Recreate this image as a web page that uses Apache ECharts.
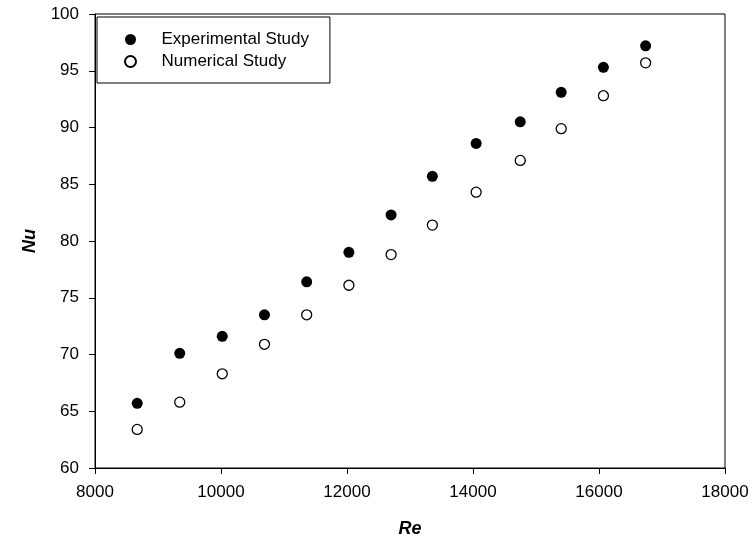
<!DOCTYPE html>
<html>
<head>
<meta charset="utf-8">
<script src="https://cdn.jsdelivr.net/npm/echarts@6/dist/echarts.min.js"></script>
<style>
  html, body { margin: 0; padding: 0; background: #fff; }
  #main { width: 752px; height: 544px; }
</style>
</head>
<body>
<div id="main"></div>
<script>
// Re values (x)
var reValues = [8670, 9345, 10020, 10690, 11360, 12030, 12700, 13355, 14050, 14750, 15400, 16070, 16740];
// Nu, experimental (filled dots)
var nuExperimental = [65.7, 70.1, 71.6, 73.5, 76.4, 79.0, 82.3, 85.7, 88.6, 90.5, 93.1, 95.3, 97.2];
// Nu, numerical (open circles)
var nuNumerical = [63.4, 65.8, 68.3, 70.9, 73.5, 76.1, 78.8, 81.4, 84.3, 87.1, 89.9, 92.8, 95.7];

var seriesNames = ['Experimental Study', 'Numerical Study'];
var xTicks = { min: 8000, max: 18000, step: 2000 };
var yTicks = { min: 60, max: 100, step: 5 };

function pairs(xs, ys) {
  var out = [];
  for (var i = 0; i < xs.length; i++) {
    out.push([xs[i], ys[i]]);
  }
  return out;
}

var font = '"Liberation Sans", Arial, sans-serif';
var chart = echarts.init(document.getElementById('main'));

var option = {
  backgroundColor: '#fff',
  animation: false,
  grid: {
    left: 95, right: 27, top: 14, bottom: 76,
    show: true,
    borderColor: '#000',
    borderWidth: 1
  },
  legend: {
    orient: 'vertical',
    left: 97,
    top: 17,
    data: seriesNames,
    itemWidth: 52,
    itemHeight: 11,
    itemGap: 5,
    padding: [14, 21, 13, 27],
    borderColor: '#000',
    borderWidth: 1,
    backgroundColor: '#fff',
    textStyle: { fontFamily: font, fontSize: 17, color: '#000', lineHeight: 17 }
  },
  xAxis: {
    type: 'value',
    min: xTicks.min, max: xTicks.max, interval: xTicks.step,
    name: 'Re',
    nameLocation: 'middle',
    nameGap: 52,
    nameTextStyle: { fontFamily: font, fontSize: 18, fontWeight: 'bold', fontStyle: 'italic', color: '#000' },
    axisLine: { lineStyle: { color: '#000', width: 1 } },
    axisTick: { show: true, length: 6, inside: false, lineStyle: { color: '#000' } },
    axisLabel: { fontFamily: font, fontSize: 17, color: '#000', margin: 16,
      formatter: function (v) { return String(v); } },
    splitLine: { show: false }
  },
  yAxis: {
    type: 'value',
    min: yTicks.min, max: yTicks.max, interval: yTicks.step,
    name: 'Nu',
    nameLocation: 'middle',
    nameGap: 56,
    nameRotate: 90,
    nameTextStyle: { fontFamily: font, fontSize: 18, fontWeight: 'bold', fontStyle: 'italic', color: '#000' },
    axisLine: { show: true, lineStyle: { color: '#000', width: 1 } },
    axisTick: { show: true, length: 6, inside: false, lineStyle: { color: '#000' } },
    axisLabel: { fontFamily: font, fontSize: 17, color: '#000', margin: 16 },
    splitLine: { show: false }
  },
  series: [
    {
      name: seriesNames[0],
      type: 'scatter',
      symbol: 'circle',
      symbolSize: 11,
      itemStyle: { color: '#000', borderColor: '#000', borderWidth: 0, opacity: 1 },
      data: pairs(reValues, nuExperimental)
    },
    {
      name: seriesNames[1],
      type: 'scatter',
      symbol: 'circle',
      symbolSize: 10,
      itemStyle: { color: '#fff', borderColor: '#000', borderWidth: 1.3, opacity: 1 },
      data: pairs(reValues, nuNumerical)
    }
  ]
};

chart.setOption(option);
</script>
</body>
</html>
